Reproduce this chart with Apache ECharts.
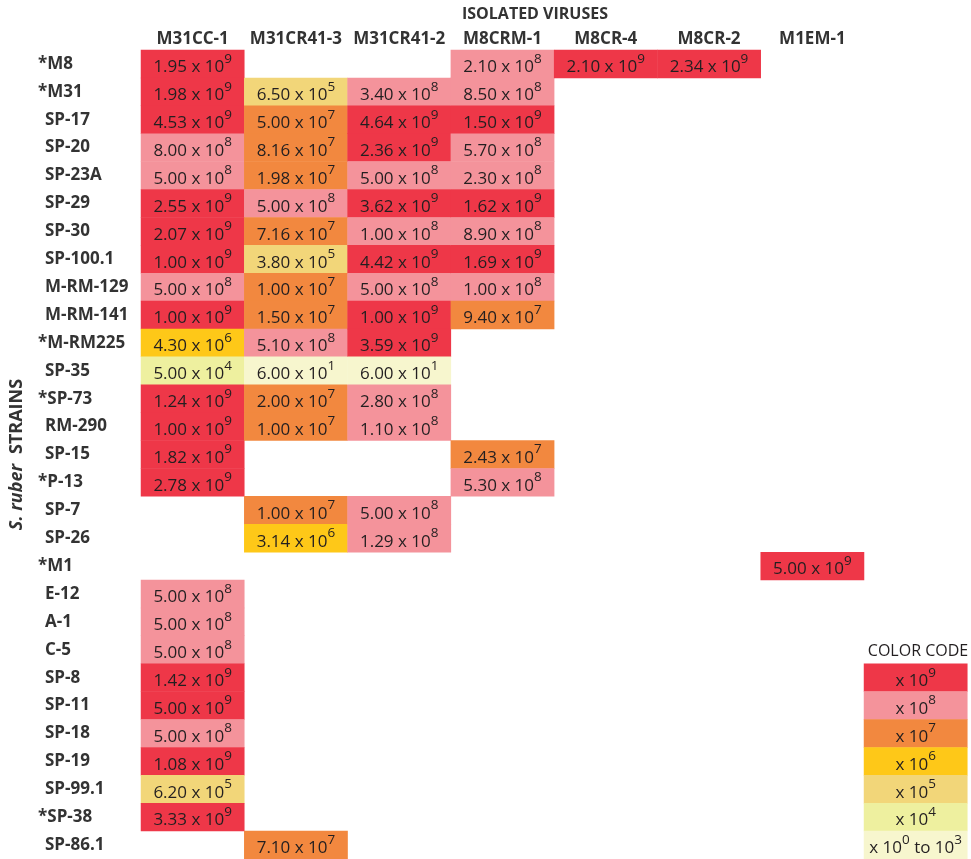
<!DOCTYPE html>
<html>
<head>
<meta charset="utf-8">
<script src="https://cdn.jsdelivr.net/npm/echarts@6/dist/echarts.min.js"></script>
<style>
html,body{margin:0;padding:0;background:#fff;}
#chart{width:971px;height:859px;}
</style>
</head>
<body>
<div id="chart"></div>
<script>
const strains = ['*M8','*M31','SP-17','SP-20','SP-23A','SP-29','SP-30','SP-100.1','M-RM-129','M-RM-141','*M-RM225','SP-35','*SP-73','RM-290','SP-15','*P-13','SP-7','SP-26','*M1','E-12','A-1','C-5','SP-8','SP-11','SP-18','SP-19','SP-99.1','*SP-38','SP-86.1'];
const viruses = ['M31CC-1','M31CR41-3','M31CR41-2','M8CRM-1','M8CR-4','M8CR-2','M1EM-1'];
const _ = null;
const m31cc1   = [1.95e9,1.98e9,4.53e9,8.00e8,5.00e8,2.55e9,2.07e9,1.00e9,5.00e8,1.00e9,4.30e6,5.00e4,1.24e9,1.00e9,1.82e9,2.78e9,_,_,_,5.00e8,5.00e8,5.00e8,1.42e9,5.00e9,5.00e8,1.08e9,6.20e5,3.33e9,_];
const m31cr413 = [_,6.50e5,5.00e7,8.16e7,1.98e7,5.00e8,7.16e7,3.80e5,1.00e7,1.50e7,5.10e8,6.00e1,2.00e7,1.00e7,_,_,1.00e7,3.14e6,_,_,_,_,_,_,_,_,_,_,7.10e7];
const m31cr412 = [_,3.40e8,4.64e9,2.36e9,5.00e8,3.62e9,1.00e8,4.42e9,5.00e8,1.00e9,3.59e9,6.00e1,2.80e8,1.10e8,_,_,5.00e8,1.29e8,_,_,_,_,_,_,_,_,_,_,_];
const m8crm1   = [2.10e8,8.50e8,1.50e9,5.70e8,2.30e8,1.62e9,8.90e8,1.69e9,1.00e8,9.40e7,_,_,_,_,2.43e7,5.30e8,_,_,_,_,_,_,_,_,_,_,_,_,_];
const m8cr4    = [2.10e9,_,_,_,_,_,_,_,_,_,_,_,_,_,_,_,_,_,_,_,_,_,_,_,_,_,_,_,_];
const m8cr2    = [2.34e9,_,_,_,_,_,_,_,_,_,_,_,_,_,_,_,_,_,_,_,_,_,_,_,_,_,_,_,_];
const m1em1    = [_,_,_,_,_,_,_,_,_,_,_,_,_,_,_,_,_,_,5.00e9,_,_,_,_,_,_,_,_,_,_];
const columns = [m31cc1, m31cr413, m31cr412, m8crm1, m8cr4, m8cr2, m1em1];

const legendClasses = [9,8,7,6,5,4,3];
const legendStartRow = 22;
const classColors = {9:'#EE3748',8:'#F4939B',7:'#F2883F',6:'#FEC818',5:'#F2D679',4:'#EEF09F',3:'#F7F6CE'};

function expOf(v){ return Math.floor(Math.log10(v) + 1e-9); }
function clsOf(v){ const e = expOf(v); return e <= 3 ? 3 : e; }

const data = [];
columns.forEach((col, c) => {
  col.forEach((v, r) => {
    if (v == null) return;
    const e = expOf(v);
    const m = (v / Math.pow(10, e)).toFixed(2);
    data.push({value:[c, r, clsOf(v)], txt:'{m|' + m + ' x 10}{s|' + e + '}'});
  });
});
legendClasses.forEach((k, i) => {
  const txt = k === 3 ? '{m|x 10}{s|0}{m| to 10}{s|3}' : '{m|x 10}{s|' + k + '}';
  data.push({value:[viruses.length, legendStartRow + i, k], txt: txt});
});

const FONT = '"Open Sans", "DejaVu Sans", sans-serif';
const chart = echarts.init(document.getElementById('chart'));
chart.setOption({
  backgroundColor:'#fff',
  animation:false,
  grid:{left:137.7, top:50, width:829.6, height:809.7},
  xAxis:{
    type:'category', position:'top', data: viruses.concat(['']),
    axisLine:{show:false}, axisTick:{show:false}, splitLine:{show:false},
    axisLabel:{interval:0, margin:2, fontFamily:FONT, fontWeight:'bold', fontSize:17, color:'#333'}
  },
  yAxis:{
    type:'category', inverse:true, data: strains,
    axisLine:{show:false}, axisTick:{show:false}, splitLine:{show:false},
    axisLabel:{
      interval:0, align:'left', margin:103, fontFamily:FONT, fontWeight:'bold', fontSize:17, color:'#333',
      formatter: v => v.charAt(0) === '*' ? '{a|' + v + '}' : '{p|' + v + '}',
      rich:{
        a:{fontFamily:FONT, fontWeight:'bold', fontSize:17, color:'#333'},
        p:{fontFamily:FONT, fontWeight:'bold', fontSize:17, color:'#333', padding:[0,0,0,7]}
      }
    },
    name:'{i|S. ruber}   {b|STRAINS}', nameLocation:'middle', nameGap:115, nameRotate:90,
    nameTextStyle:{
      rich:{
        i:{fontFamily:FONT, fontWeight:'bold', fontStyle:'italic', fontSize:18, color:'#333'},
        b:{fontFamily:FONT, fontWeight:'bold', fontSize:18, color:'#333'}
      }
    }
  },
  visualMap:{
    type:'piecewise', show:false, dimension:2, seriesIndex:0,
    pieces: legendClasses.map(k => ({value:k, color:classColors[k]}))
  },
  series:[{
    type:'heatmap', data: data,
    emphasis:{disabled:true},
    itemStyle:{borderWidth:0},
    label:{
      show:true,
      formatter: p => p.data.txt,
      rich:{
        m:{fontFamily:FONT, fontSize:17, lineHeight:24, color:'#231F20', verticalAlign:'bottom'},
        s:{fontFamily:FONT, fontSize:13.5, lineHeight:13.5, color:'#231F20', verticalAlign:'top'}
      }
    }
  }],
  graphic:[
    {type:'text', x:535, y:14, style:{text:'ISOLATED VIRUSES', font:'bold 16px ' + FONT, fill:'#333', align:'center', verticalAlign:'middle'}},
    {type:'text', x:918, y:651, style:{text:'COLOR CODE', font:'16px ' + FONT, fill:'#231F20', align:'center', verticalAlign:'middle'}}
  ]
});
</script>
</body>
</html>
